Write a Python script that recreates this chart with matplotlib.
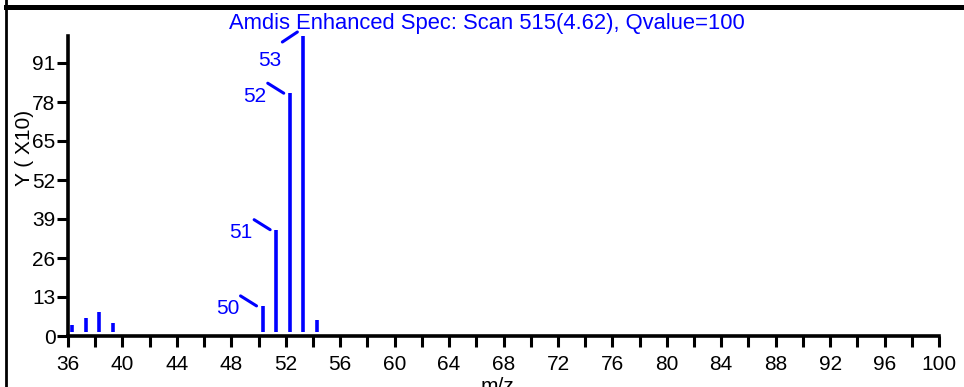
import matplotlib
matplotlib.use("Agg")
import matplotlib.pyplot as plt
from matplotlib.transforms import ScaledTranslation
from matplotlib.lines import Line2D

plt.rcParams['font.family'] = ['Liberation Sans', 'DejaVu Sans']

# data
mz = [36, 37, 38, 39, 50, 51, 52, 53, 54]
intensity = [2.5, 4.7, 6.7, 3.0, 8.7, 34.1, 79.6, 100, 3.9]
labeled = [50, 51, 52, 53]
xticks = list(range(36, 101, 4))
xminor = list(range(36, 101, 2))
yticks = [0, 13, 26, 39, 52, 65, 78, 91]
title = "Amdis Enhanced Spec: Scan 515(4.62), Qvalue=100"

W, H, DPI = 9.64, 3.87, 100
fig = plt.figure(figsize=(W, H), dpi=DPI)
ax = fig.add_axes([68/964, 51/387, 871/964, 300/387])
blue = '#0000ff'


def shifted(dx, dy):
    return ax.transData + ScaledTranslation(dx/DPI, dy/DPI, fig.dpi_scale_trans)


ax.vlines(mz, 0, intensity, colors=blue, lw=2.6, transform=shifted(4, 4))

for m, v in zip(mz, intensity):
    if m not in labeled:
        continue
    if m == 53:
        l0, l1, t = (-6, 0), (-21, -10), (-34, -29)
    else:
        l0, l1, t = (-6, 0), (-22, 10), (-35, -3)
    ax.annotate('', xy=(m, v), xycoords=shifted(4 + l0[0], 4 + l0[1]),
                xytext=(m, v), textcoords=shifted(4 + l1[0], 4 + l1[1]),
                arrowprops=dict(arrowstyle='-', color=blue, lw=2.2,
                                shrinkA=0, shrinkB=0), annotation_clip=False)
    ax.text(m, v, str(m), transform=shifted(4 + t[0], 4 + t[1]), color=blue,
            fontsize=15, ha='center', va='center', clip_on=False)

ax.set_xlim(36, 100)
ax.set_ylim(0, 100)
ax.set_xticks(xminor, minor=True)
ax.set_xticks(xticks)
ax.set_yticks(yticks)
ax.tick_params(axis='both', which='both', direction='out', width=2.2, length=8,
               labelsize=15, color='black', pad=1)
ax.tick_params(axis='x', which='major', pad=6)
for s in ['top', 'right']:
    ax.spines[s].set_visible(False)
for s in ['left', 'bottom']:
    ax.spines[s].set_linewidth(2.6)
ax.set_ylabel('Y ( X10)', fontsize=15)
ax.yaxis.label.set_verticalalignment('center')
ax.yaxis.set_label_coords(-0.0494, 0.627)
ax.set_xlabel('m/z', fontsize=15)
ax.xaxis.label.set_verticalalignment('center')
ax.xaxis.set_label_coords(0.4925, -0.168)

fig.text(487/964, 1 - 24/387, title, color=blue, fontsize=15.8,
         ha='center', va='center')

# decorations: frame of the panel
fig.add_artist(Line2D([6/964, 6/964], [0, 1], transform=fig.transFigure,
                      color='black', lw=2))
fig.add_artist(Line2D([6/964, 1], [1 - 6.5/387, 1 - 6.5/387],
                      transform=fig.transFigure, color='black', lw=3.6))
fig.text(480/964, 1 + 6/387, 'm/z', fontsize=15, ha='center', va='center')

fig.savefig('out.png', dpi=DPI)
